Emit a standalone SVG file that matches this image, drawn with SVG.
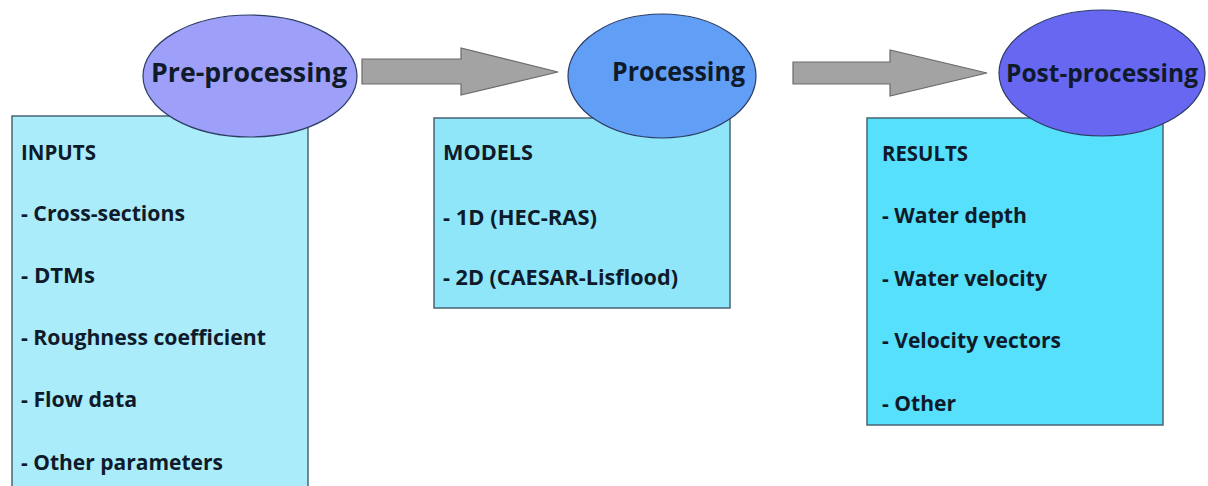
<svg xmlns="http://www.w3.org/2000/svg" width="1208" height="486" viewBox="0 0 1208 486">
<style>
.box{stroke:#4a6474;stroke-width:1.5}
.ell{stroke:#2c3e66;stroke-width:1.2}
.arrow{fill:#a3a3a3;stroke:#6a6a6a;stroke-width:1.2}
.t{font-family:"Open Sans",Lato,"Liberation Sans",sans-serif;font-weight:bold;fill:#0f1a2a}
.b{font-size:21.5px}
.h{font-size:27px}
</style>
<rect width="1208" height="486" fill="#ffffff"/>
<g id="connectors">
<polygon class="arrow" points="362,59 461,59 461,48 558,72 461,95 461,84 362,84"/>
<polygon class="arrow" points="793,62 890,62 890,50 987,73 890,96 890,84 793,84"/>
</g>
<g id="inputs">
<rect class="box" x="12" y="116" width="296" height="380" fill="#aaecfa"/>
<text class="t b" x="21" y="160" textLength="75" lengthAdjust="spacingAndGlyphs">INPUTS</text>
<text class="t b" x="21" y="221" textLength="164" lengthAdjust="spacingAndGlyphs">- Cross-sections</text>
<text class="t b" x="21" y="283" textLength="74" lengthAdjust="spacingAndGlyphs">- DTMs</text>
<text class="t b" x="21" y="345" textLength="245" lengthAdjust="spacingAndGlyphs">- Roughness coefficient</text>
<text class="t b" x="21" y="407" textLength="116" lengthAdjust="spacingAndGlyphs">- Flow data</text>
<text class="t b" x="21" y="470" textLength="202" lengthAdjust="spacingAndGlyphs">- Other parameters</text>
</g>
<g id="models">
<rect class="box" x="434" y="118" width="296" height="190" fill="#8fe6f8"/>
<text class="t b" x="443" y="160" textLength="90" lengthAdjust="spacingAndGlyphs">MODELS</text>
<text class="t b" x="443" y="225" textLength="154" lengthAdjust="spacingAndGlyphs">- 1D (HEC-RAS)</text>
<text class="t b" x="443" y="285" textLength="235" lengthAdjust="spacingAndGlyphs">- 2D (CAESAR-Lisflood)</text>
</g>
<g id="results">
<rect class="box" x="867" y="118" width="296" height="307" fill="#57e0fb"/>
<text class="t b" x="882" y="161" textLength="86" lengthAdjust="spacingAndGlyphs">RESULTS</text>
<text class="t b" x="882" y="223" textLength="145" lengthAdjust="spacingAndGlyphs">- Water depth</text>
<text class="t b" x="882" y="286" textLength="165" lengthAdjust="spacingAndGlyphs">- Water velocity</text>
<text class="t b" x="882" y="348" textLength="179" lengthAdjust="spacingAndGlyphs">- Velocity vectors</text>
<text class="t b" x="882" y="411" textLength="74" lengthAdjust="spacingAndGlyphs">- Other</text>
</g>
<g id="pre-processing">
<ellipse class="ell" cx="250" cy="76" rx="107" ry="61" fill="#9d9ff8"/>
<text class="t h" x="151" y="82" textLength="196" lengthAdjust="spacingAndGlyphs">Pre-processing</text>
</g>
<g id="processing">
<ellipse class="ell" cx="662" cy="76" rx="94" ry="62" fill="#619ef5"/>
<text class="t h" x="612" y="81" textLength="133" lengthAdjust="spacingAndGlyphs">Processing</text>
</g>
<g id="post-processing">
<ellipse class="ell" cx="1102" cy="73" rx="103" ry="63" fill="#6767f2"/>
<text class="t" x="1006" y="82" font-size="25" textLength="192" lengthAdjust="spacingAndGlyphs">Post-processing</text>
</g>
</svg>
